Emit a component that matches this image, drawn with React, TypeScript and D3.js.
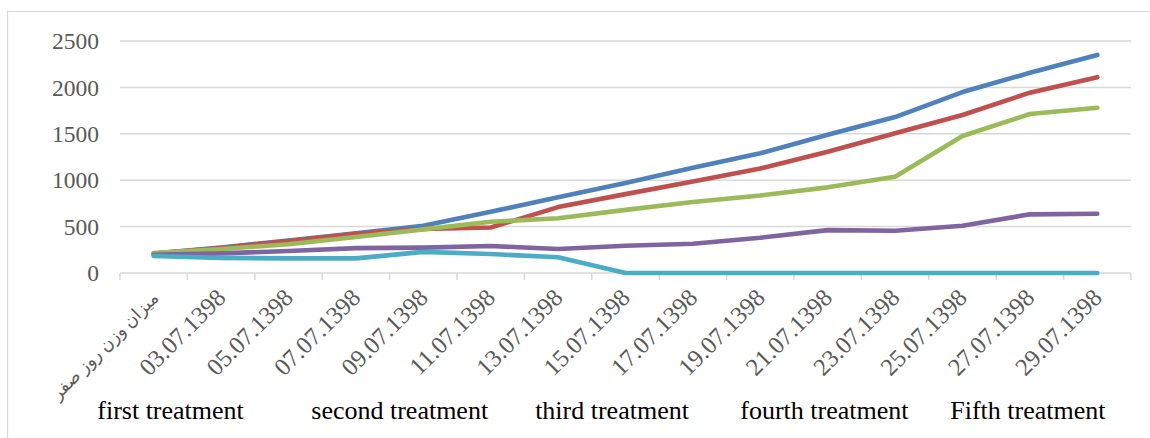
import React from "react";
import * as d3 from "d3";

const categories = [
  "ميزان وزن روز صفر",
  "03.07.1398", "05.07.1398", "07.07.1398", "09.07.1398", "11.07.1398",
  "13.07.1398", "15.07.1398", "17.07.1398", "19.07.1398", "21.07.1398",
  "23.07.1398", "25.07.1398", "27.07.1398", "29.07.1398",
];

const seriesBlue = [210, 275, 350, 427, 510, 660, 815, 970, 1135, 1290, 1490, 1680, 1950, 2157, 2350];
const seriesRed = [210, 270, 345, 423, 475, 490, 710, 850, 985, 1125, 1307, 1505, 1703, 1943, 2110];
const seriesGreen = [215, 258, 310, 388, 470, 552, 590, 680, 765, 835, 923, 1038, 1476, 1713, 1781];
const seriesPurple = [195, 212, 237, 268, 273, 291, 259, 294, 316, 380, 462, 456, 510, 632, 639];
const seriesCyan = [183, 163, 158, 158, 228, 205, 169, 0, 0, 0, 0, 0, 0, 0, 0];

const yTicks = [0, 500, 1000, 1500, 2000, 2500];

const treatmentLabels = ["first treatment", "second treatment", "third treatment", "fourth treatment", "Fifth treatment"];
// fractional category index at which each group label is centred (layout)
const treatmentPos = [0.25, 3.65, 6.8, 9.95, 12.97];

const series = [
  { name: "blue", values: seriesBlue, color: "#4F81BD" },
  { name: "red", values: seriesRed, color: "#C0504D" },
  { name: "green", values: seriesGreen, color: "#9BBB59" },
  { name: "purple", values: seriesPurple, color: "#8064A2" },
  { name: "cyan", values: seriesCyan, color: "#4BACC6" },
];

export default function App() {
  const W = 1150, H = 438;
  const left = 120, right = 1131, top = 41, bottom = 273;
  const x = d3.scaleBand<string>().domain(categories).range([left, right]).padding(0);
  const y = d3.scaleLinear().domain([0, 2500]).range([bottom, top]);
  const cx = (i: number) => (x(categories[i]) as number) + x.bandwidth() / 2;
  const line = d3.line<number>().x((_, i) => cx(i)).y((d) => y(d));
  const bw = x.bandwidth();
  const tickXs = d3.range(categories.length + 1).map((i) => left + i * bw);

  return (
    <svg width={W} height={H} style={{ position: "absolute", left: 0, top: 0, background: "#fff" }}
      fontFamily="'Liberation Serif', 'Times New Roman', serif">
      <rect x={7.5} y={11.5} width={1160} height={440} fill="#fff" stroke="#d9d9d9" strokeWidth={1.2} />
      {yTicks.filter((t) => t > 0).map((t) => (
        <line key={t} x1={left} x2={right} y1={y(t)} y2={y(t)} stroke="#d9d9d9" strokeWidth={1.5} />
      ))}
      <line x1={left} x2={right} y1={bottom} y2={bottom} stroke="#d9d9d9" strokeWidth={1.5} />
      {tickXs.map((tx, i) => (
        <line key={i} x1={tx} x2={tx} y1={bottom} y2={bottom + 7} stroke="#d9d9d9" strokeWidth={1.5} />
      ))}
      {yTicks.map((t) => (
        <text key={t} x={99} y={y(t)} dy="0.35em" textAnchor="end" fontSize={23.5} fill="#595959">{t}</text>
      ))}
      {series.map((s) => (
        <path key={s.name} d={line(s.values) || ""} fill="none" stroke={s.color} strokeWidth={4.6}
          strokeLinejoin="round" strokeLinecap="round" />
      ))}
      {categories.map((c, i) => {
        const ax = cx(i) + 6;
        const ay = bottom + 26;
        return (
          <text key={c} x={ax} y={ay} transform={`rotate(-45, ${ax}, ${ay})`} textAnchor="end"
            fontSize={i === 0 ? 17.5 : 24.5} fill="#595959"
            fontFamily={i === 0 ? "'Times New Roman', 'DejaVu Sans', serif" : undefined}>
            {c}
          </text>
        );
      })}
      {treatmentLabels.map((t, i) => (
        <text key={t} x={cx(0) + treatmentPos[i] * bw} y={419} textAnchor="middle" fontSize={26} fill="#000">{t}</text>
      ))}
    </svg>
  );
}
